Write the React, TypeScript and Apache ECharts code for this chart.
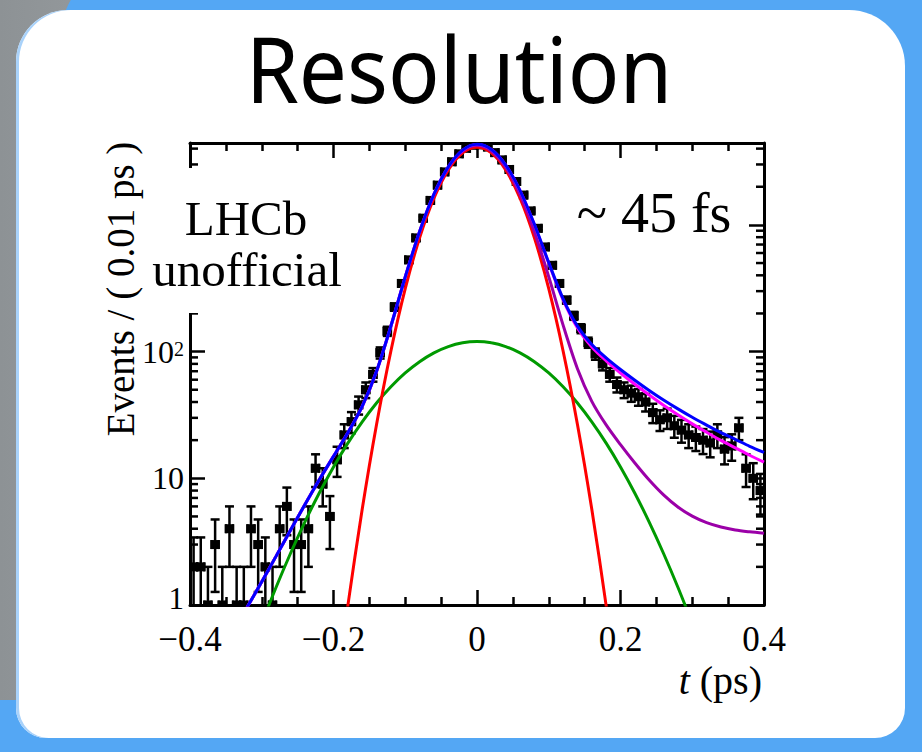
import React, { useEffect, useRef } from "react";
import * as echarts from "echarts";

// ---- data ----
const binCenters = [
  -0.395, -0.385, -0.375, -0.365, -0.355, -0.345, -0.335, -0.325, -0.315, -0.305,
  -0.295, -0.285, -0.275, -0.265, -0.255, -0.245, -0.235, -0.225, -0.215, -0.205,
  -0.195, -0.185, -0.175, -0.165, -0.155, -0.145, -0.135, -0.125, -0.115, -0.105,
  -0.095, -0.085, -0.075, -0.065, -0.055, -0.045, -0.035, -0.025, -0.015, -0.005,
  0.005, 0.015, 0.025, 0.035, 0.045, 0.055, 0.065, 0.075, 0.085, 0.095,
  0.105, 0.115, 0.125, 0.135, 0.145, 0.155, 0.165, 0.175, 0.185, 0.195,
  0.205, 0.215, 0.225, 0.235, 0.245, 0.255, 0.265, 0.275, 0.285, 0.295,
  0.305, 0.315, 0.325, 0.335, 0.345, 0.355, 0.365, 0.375, 0.385, 0.395,
];
const eventCounts = [
  2, 2, 1, 3, 1, 4, 1, 1, 4, 3,
  2, 1, 4, 6, 3, 3, 4, 12, 9, 5,
  14, 22, 28, 38, 50, 66, 98, 145, 225, 345,
  530, 790, 1130, 1560, 2060, 2620, 3150, 3640, 4020, 4250,
  4280, 4120, 3720, 3260, 2740, 2200, 1720, 1290, 940, 670,
  480, 345, 255, 192, 152, 118, 96, 80, 66, 55,
  50, 47, 44, 40, 33, 29, 30, 26, 24, 22,
  21, 20, 19, 22, 17, 18, 25, 12, 10, 8,
];

const curveT = [
  -0.4, -0.38, -0.36, -0.34, -0.32, -0.3, -0.28, -0.26, -0.24, -0.22,
  -0.2, -0.18, -0.16, -0.14, -0.12, -0.1, -0.08, -0.06, -0.04, -0.02,
  0, 0.02, 0.04, 0.06, 0.08, 0.1, 0.12, 0.14, 0.16, 0.18,
  0.2, 0.22, 0.24, 0.26, 0.28, 0.3, 0.32, 0.34, 0.36, 0.38, 0.4,
];
const redT = [
  -0.22, -0.2, -0.18, -0.16, -0.14, -0.12, -0.1, -0.08, -0.06, -0.04, -0.02,
  0, 0.02, 0.04, 0.06, 0.08, 0.1, 0.12, 0.14, 0.16, 0.18, 0.2, 0.22,
];
const redCurve = [
  0.0162, 0.14, 0.989, 5.69, 26.6, 101.2, 313.6, 791, 1625, 2718, 3699,
  4100, 3699, 2718, 1625, 791, 313.6, 101.2, 26.6, 5.69, 0.989, 0.14, 0.0162,
];
const greenCurve = [
  0.0132, 0.0322, 0.0748, 0.166, 0.352, 0.713, 1.38, 2.55, 4.51, 7.63,
  12.3, 18.96, 27.9, 39.3, 52.8, 67.9, 83.3, 97.8, 109.5, 117.3,
  120, 117.3, 109.5, 97.8, 83.3, 67.9, 52.8, 39.3, 27.9, 18.96,
  12.3, 7.63, 4.51, 2.55, 1.38, 0.713, 0.352, 0.166, 0.0748, 0.0322, 0.0132,
];
const purpleCurve = [
  0.184, 0.275, 0.412, 0.626, 0.968, 1.525, 2.43, 3.89, 6.18, 9.69,
  14.91, 22.87, 36.99, 69.78, 158.4, 386.3, 879.6, 1728.7, 2833.9, 3823.4,
  4227.8, 3824.6, 2836.1, 1731.5, 882.9, 389.8, 161.8, 73.3, 40.5, 26.37,
  18.41, 13.19, 9.68, 7.39, 5.93, 5.03, 4.47, 4.13, 3.91, 3.78, 3.68,
];
const magentaCurve = [
  0.184, 0.275, 0.412, 0.626, 0.968, 1.525, 2.43, 3.89, 6.18, 9.69,
  14.91, 22.87, 37.03, 69.98, 159.2, 389.1, 887.3, 1747, 2870.3, 3885.2,
  4317.5, 3938, 2963.1, 1860, 1003.6, 497.7, 255.5, 153.6, 108.9, 84.57,
  67.8, 55.2, 45.4, 37.7, 31.7, 26.9, 23.1, 19.9, 17.4, 15.2, 13.4,
];
const blueCurve = [
  0.184, 0.275, 0.412, 0.626, 0.968, 1.525, 2.43, 3.89, 6.18, 9.69,
  14.91, 22.87, 37.03, 69.98, 159.2, 389.2, 887.7, 1747.8, 2872, 3888,
  4321.5, 3943, 2969, 1866, 1010, 503.6, 261.2, 159, 113.9, 89.35,
  72.3, 59.5, 49.4, 41.5, 35.3, 30.3, 26.3, 22.9, 20.3, 17.9, 16.0,
];

const yMinorTicks = [
  2, 3, 4, 5, 6, 7, 8, 9, 20, 30, 40, 50, 60, 70, 80, 90,
  200, 300, 400, 500, 600, 700, 800, 900, 2000, 3000, 4000,
];

const X_MIN = -0.4;
const X_MAX = 0.4;
const Y_MAX = 4430;
const BIN_HALF = 0.005;
const SERIF = "'Liberation Serif', 'DejaVu Serif', serif";

export default function App() {
  const ref = useRef<HTMLDivElement | null>(null);

  useEffect(() => {
    if (!ref.current) return;
    const chart = echarts.init(ref.current, undefined, { renderer: "svg" });

    const pointData = binCenters.map((t, i) => {
      const n = eventCounts[i];
      const e = Math.sqrt(n);
      return [t, n, n - e, n + e];
    });
    const pairs = (xs: number[], ys: number[]) => xs.map((x, i) => [x, ys[i]]);

    const lineSeries = (name: string, xs: number[], ys: number[], color: string) => ({
      name,
      type: "line",
      data: pairs(xs, ys),
      showSymbol: false,
      symbol: "none",
      smooth: 0.3,
      clip: true,
      lineStyle: { color, width: 3 },
      z: 5,
      silent: true,
    });

    const axisCommonX = {
      type: "value",
      min: X_MIN,
      max: X_MAX,
      interval: 0.2,
      axisLine: { show: true, onZero: false, lineStyle: { color: "#000", width: 3 } },
      axisTick: { show: true, inside: true, length: 15, lineStyle: { color: "#000", width: 2.5 } },
      minorTick: { show: true, splitNumber: 4, length: 8, lineStyle: { color: "#000", width: 2.5 } },
      splitLine: { show: false },
      minorSplitLine: { show: false },
    };
    const axisCommonY = {
      type: "log",
      logBase: 10,
      min: 1,
      max: Y_MAX,
      axisLine: { show: true, onZero: false, lineStyle: { color: "#000", width: 3 } },
      axisTick: { show: true, inside: true, length: 15, lineStyle: { color: "#000", width: 2.5 } },
      splitLine: { show: false },
    };

    const option: any = {
      animation: false,
      grid: { left: 190, right: 158, top: 143, bottom: 147, containLabel: false },
      xAxis: [
        {
          ...axisCommonX,
          position: "bottom",
          axisLabel: {
            show: true,
            color: "#000",
            fontFamily: SERIF,
            fontSize: 35,
            lineHeight: 32,
            margin: 18,
            formatter: (v: number) => {
              if (Math.abs(v) < 1e-9) return "0";
              const s = Math.abs(v).toFixed(1);
              return v < 0 ? "\u2212" + s : s;
            },
          },
        },
        { ...axisCommonX, position: "top", axisLabel: { show: false } },
      ],
      yAxis: [
        {
          ...axisCommonY,
          position: "left",
          axisLabel: {
            show: true,
            color: "#000",
            fontFamily: SERIF,
            fontSize: 32,
            lineHeight: 26,
            margin: 6,
            formatter: (v: number) => {
              if (Math.abs(v - 1) < 1e-6) return "{one|1}";
              if (Math.abs(v - 10) < 1e-6) return "10";
              if (Math.abs(v - 100) < 1e-6) return "{b|10}{s|2}";
              return "";
            },
            rich: {
              one: { fontFamily: SERIF, fontSize: 31, color: "#000", lineHeight: 24, padding: [0, 0, 14, 0] },
              b: { fontFamily: SERIF, fontSize: 32, color: "#000", lineHeight: 26 },
              s: { fontFamily: SERIF, fontSize: 20, color: "#000", verticalAlign: "top", padding: [0, 0, 14, 0] },
            },
          },
        },
        { ...axisCommonY, position: "right", axisLabel: { show: false } },
      ],
      series: [
        {
          name: "minor ticks",
          type: "custom",
          silent: true,
          clip: false,
          data: yMinorTicks.map((v) => [0, v]),
          encode: { x: 0, y: 1 },
          renderItem: (params: any, api: any) => {
            const v = api.value(1);
            const l = api.coord([X_MIN, v]);
            const r = api.coord([X_MAX, v]);
            return {
              type: "group",
              children: [
                { type: "line", shape: { x1: l[0], y1: l[1], x2: l[0] + 8, y2: l[1] }, style: { stroke: "#000", lineWidth: 2.5 } },
                { type: "line", shape: { x1: r[0] - 8, y1: r[1], x2: r[0], y2: r[1] }, style: { stroke: "#000", lineWidth: 2.5 } },
              ],
            };
          },
          z: 3,
        },
        {
          name: "Data",
          type: "custom",
          clip: true,
          silent: true,
          data: pointData,
          dimensions: ["t", "n", "lo", "hi"],
          encode: { x: 0, y: 1 },
          renderItem: (params: any, api: any) => {
            const t = api.value(0);
            const n = api.value(1);
            const lo = api.value(2);
            const hi = api.value(3);
            const c = api.coord([t, n]);
            const top = api.coord([t, hi]);
            const bot = api.coord([t, Math.max(lo, 0.3)]);
            const l = api.coord([t - BIN_HALF, n]);
            const r = api.coord([t + BIN_HALF, n]);
            const st = { stroke: "#000", lineWidth: 2.5 };
            const cap = 4.5;
            const children: any[] = [
              { type: "line", shape: { x1: c[0], y1: top[1], x2: c[0], y2: bot[1] }, style: st },
              { type: "line", shape: { x1: l[0], y1: c[1], x2: r[0], y2: c[1] }, style: st },
              { type: "line", shape: { x1: c[0] - cap, y1: top[1], x2: c[0] + cap, y2: top[1] }, style: st },
              { type: "line", shape: { x1: l[0], y1: c[1] - cap, x2: l[0], y2: c[1] + cap }, style: st },
              { type: "line", shape: { x1: r[0], y1: c[1] - cap, x2: r[0], y2: c[1] + cap }, style: st },
              { type: "rect", shape: { x: c[0] - 4.5, y: c[1] - 4.5, width: 9, height: 9 }, style: { fill: "#000" } },
            ];
            if (lo > 0.3) {
              children.push({ type: "line", shape: { x1: c[0] - cap, y1: bot[1], x2: c[0] + cap, y2: bot[1] }, style: st });
            }
            return { type: "group", children };
          },
          z: 4,
        },
        lineSeries("Wide Gaussian", curveT, greenCurve, "#009a00"),
        lineSeries("Core Gaussian", redT, redCurve, "#ff0000"),
        lineSeries("Prompt + bkg", curveT, purpleCurve, "#9b00a8"),
        lineSeries("Prompt + tail", curveT, magentaCurve, "#ff00ff"),
        lineSeries("Total fit", curveT, blueCurve, "#0000ff"),
      ],
      graphic: [
        {
          type: "text",
          x: 459,
          y: 67,
          scaleX: 0.93,
          z: 50,
          style: {
            text: "Resolution",
            font: "normal 92px 'Noto Sans', sans-serif",
            fill: "#000",
            align: "center",
            verticalAlign: "middle",
          },
        },
        {
          type: "rect",
          z: 100,
          shape: { x: 150, y: 168, width: 197, height: 145 },
          style: { fill: "#ffffff" },
        },
        {
          type: "text",
          x: 246,
          y: 218,
          z: 101,
          style: { text: "LHCb", font: `normal 49px ${SERIF}`, fill: "#000", align: "center", verticalAlign: "middle" },
        },
        {
          type: "text",
          x: 247,
          y: 269,
          z: 101,
          style: { text: "unofficial", font: `normal 49px ${SERIF}`, fill: "#000", align: "center", verticalAlign: "middle" },
        },
        {
          type: "text",
          x: 654,
          y: 213,
          z: 101,
          style: { text: "~ 45 fs", font: `normal 56px ${SERIF}`, fill: "#000", align: "center", verticalAlign: "middle" },
        },
        {
          type: "text",
          x: 120,
          y: 289,
          rotation: Math.PI / 2,
          z: 101,
          style: { text: "Events / ( 0.01 ps )", font: `normal 39px ${SERIF}`, fill: "#000", align: "center", verticalAlign: "middle" },
        },
        {
          type: "text",
          x: 762,
          y: 680,
          z: 101,
          style: {
            text: "{i|t} (ps)",
            font: `normal 40px ${SERIF}`,
            fill: "#000",
            align: "right",
            verticalAlign: "middle",
            rich: { i: { font: `italic 40px ${SERIF}`, fill: "#000" } },
          },
        },
      ],
    };

    chart.setOption(option);
    return () => chart.dispose();
  }, []);

  return (
    <div
      style={{
        position: "fixed",
        left: 0,
        top: 0,
        width: 922,
        height: 752,
        overflow: "hidden",
        background: "linear-gradient(90deg, #8d9295 0%, #a9adb0 40%, #b9bcbe 100%)",
      }}
    >
      <div
        style={{
          position: "absolute",
          left: 60,
          top: -40,
          width: 920,
          height: 900,
          background: "#54a7f4",
          borderRadius: 80,
        }}
      />
      <div
        style={{
          position: "absolute",
          left: 0,
          top: 700,
          width: 922,
          height: 60,
          background: "#54a7f4",
        }}
      />
      <div
        style={{
          position: "absolute",
          left: 16,
          top: 10,
          width: 889,
          height: 728,
          background: "#ffffff",
          borderRadius: "52px 56px 30px 30px",
          boxShadow: "inset 3px 0 0 #a9d2fa",
        }}
      />
      <div ref={ref} style={{ position: "absolute", left: 0, top: 0, width: 922, height: 752 }} />
    </div>
  );
}
